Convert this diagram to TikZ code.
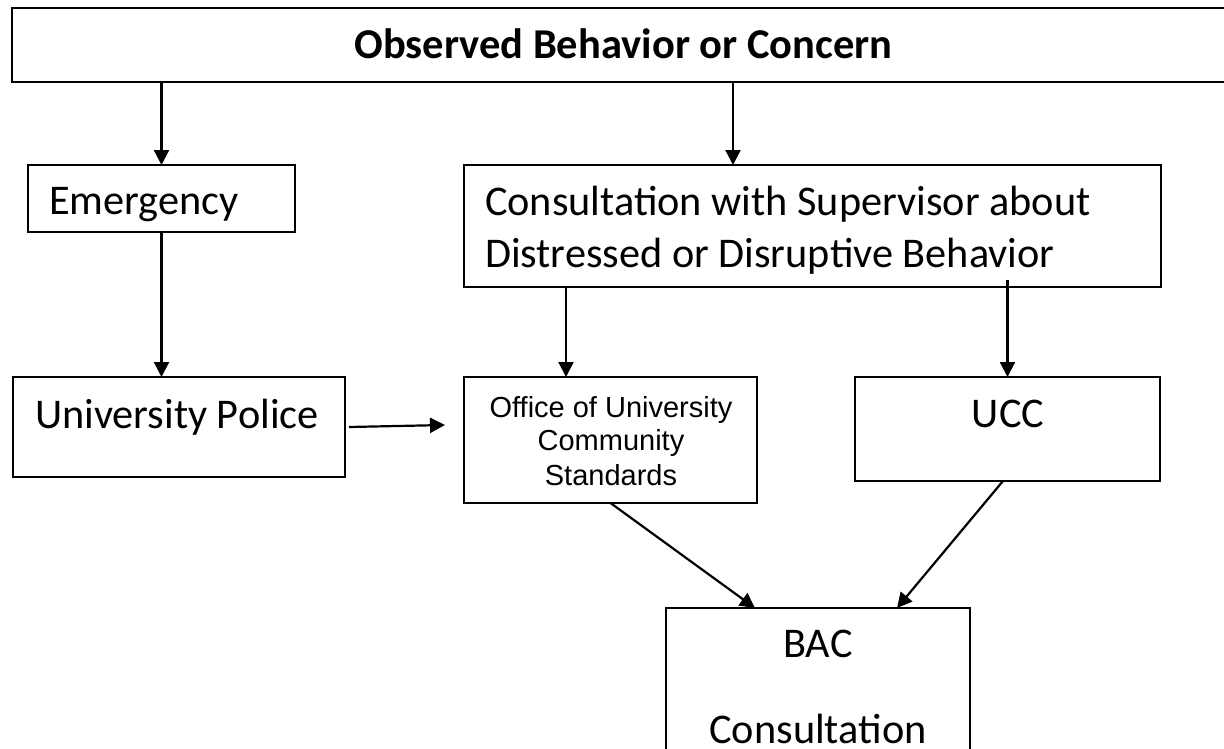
\documentclass[tikz,border=0pt]{standalone}
\usepackage{fontspec}
\setmainfont{Carlito}
\newfontfamily\arialfont{Liberation Sans}
\usetikzlibrary{arrows.meta}
\begin{document}
\begin{tikzpicture}[x=1pt,y=-1pt,
  box/.style={draw=black, line width=1.8pt, inner sep=0pt, outer sep=0pt, rectangle},
  arr/.style={line width=2.2pt, -{Triangle[length=15pt,width=15pt]}},
  txt/.style={inner sep=0pt, outer sep=0pt, anchor=base, font=\fontsize{42.3}{52}\selectfont},
  smalltxt/.style={inner sep=0pt, outer sep=0pt, anchor=base, font=\arialfont\fontsize{29}{34}\selectfont},
]
\clip (0,0) rectangle (1224,748);
\fill[white] (0,0) rectangle (1224,748);
% boxes
\node[box, line width=2.5pt, minimum width=1228pt, minimum height=74pt] (top) at (626,45) {};
\node[box, minimum width=267pt, minimum height=67pt] (emerg) at (161.5,198.5) {};
\node[box, minimum width=697pt, minimum height=122pt] (consult) at (812.5,226) {};
\node[box, minimum width=332pt, minimum height=100pt] (police) at (179,427) {};
\node[box, minimum width=293pt, minimum height=126pt] (office) at (610.5,440) {};
\node[box, minimum width=305pt, minimum height=104pt] (ucc) at (1007.5,429) {};
\node[box, minimum width=304pt, minimum height=162pt] (bac) at (818,689) {};
% texts
\node[txt, font=\bfseries\fontsize{42.5}{48}\selectfont] (ttop) at (623.5,58) {Observed Behavior or Concern};
\node[txt, anchor=base west] (temerg) at (49,214) {Emergency};
\node[txt, anchor=base west] (tcons1) at (485,215) {Consultation with Supervisor about};
\node[txt, anchor=base west] (tcons2) at (485,267) {Distressed or Disruptive Behavior};
\node[txt, anchor=base west] (tpolice) at (35,428) {University Police};
\node[smalltxt] (toff1) at (611,417) {Office of University};
\node[smalltxt] (toff2) at (611,450) {Community};
\node[smalltxt] (toff3) at (611,485) {Standards};
\node[txt] (tucc) at (1008,427) {UCC};
\node[txt] (tbac1) at (818,657) {BAC};
\node[txt] (tbac2) at (818,743) {Consultation};
% connectors
\draw[arr] (top.south -| emerg.north) -- (emerg.north);
\draw[arr] ([xshift=-79.5pt]consult.north |- top.south) -- ([xshift=-79.5pt]consult.north);
\draw[arr] (emerg.south) -- (emerg.south |- police.north);
\draw[arr] ([xshift=4pt]police.east) -- ([xshift=-19pt,yshift=15pt]office.west);
\draw[arr] ([xshift=-246.5pt]consult.south) -- ([xshift=-44.5pt]office.north);
\draw[arr] ([yshift=7pt]consult.south -| ucc.north) -- (ucc.north);
\draw[arr] (office.south) -- ([xshift=-63pt]bac.north);
\draw[arr] ([xshift=-4.5pt]ucc.south) -- ([xshift=79pt]bac.north);
\end{tikzpicture}
\end{document}
